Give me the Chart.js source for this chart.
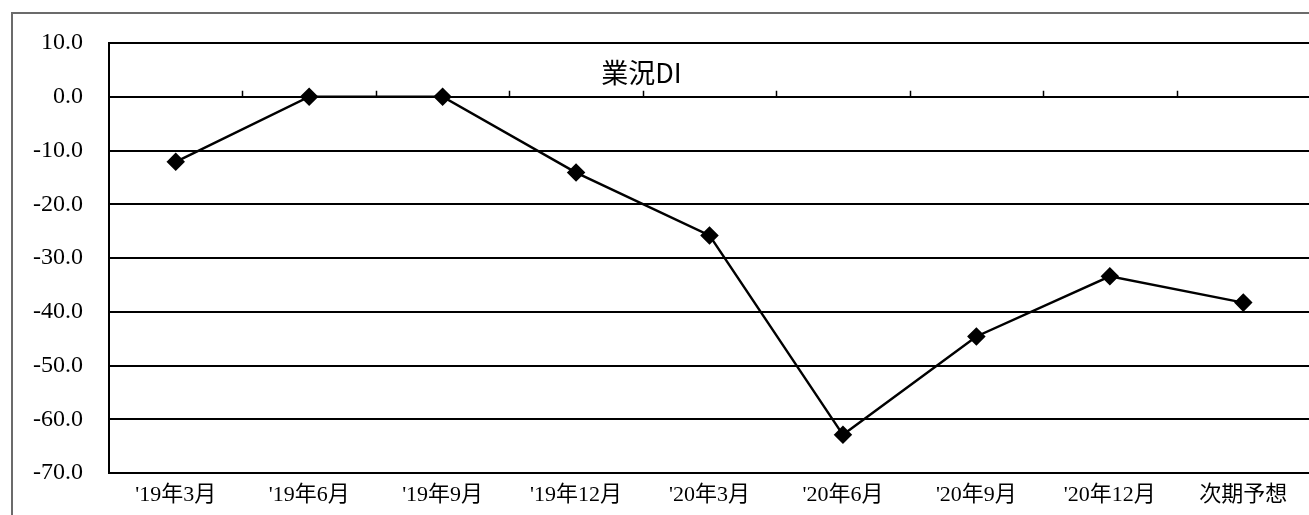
<!DOCTYPE html>
<html>
<head>
<meta charset="utf-8">
<script src="https://cdn.jsdelivr.net/npm/chart.js@4"></script>
<style>
    html, body { margin: 0; padding: 0; background: #fff; overflow: hidden; }
    #wrap { position: relative; width: 1320px; height: 515px; }
    #frame {
        position: absolute; left: 11px; top: 12px; width: 1400px; height: 600px;
        border-left: 2px solid #6b6b6b; border-top: 2px solid #6b6b6b;
    }
    canvas { position: absolute; left: 0; top: 0; }
</style>
</head>
<body>
<div id="wrap">
    <div id="frame"></div>
    <canvas id="diChart" width="1320" height="515"></canvas>
</div>
<script>
const categories = ["'19年3月", "'19年6月", "'19年9月", "'19年12月", "'20年3月", "'20年6月", "'20年9月", "'20年12月", "次期予想"];
const diValues = [-12.1, 0.0, 0.0, -14.1, -25.8, -62.9, -44.6, -33.4, -38.3];
const yTicks = [10, 0, -10, -20, -30, -40, -50, -60, -70];
const chartTitle = "業況DI";

const yFont = { family: "'Liberation Serif', 'Noto Sans CJK JP', serif", size: 24 };
const xFont = { family: "'Liberation Serif', 'Noto Sans CJK JP', serif", size: 22 };

// title sits inside the plot, and short tick marks sit on the 0 line
const insideBits = {
    id: 'insideBits',
    afterDraw(chart) {
        const ctx = chart.ctx;
        const x = chart.scales.x;
        const y = chart.scales.y;
        const y0 = y.getPixelForValue(0);
        ctx.save();
        ctx.strokeStyle = '#000';
        ctx.lineWidth = 1.5;
        for (let i = 0; i < categories.length - 1; i++) {
            const px = Math.round(x.getPixelForValue(i + 0.5)) + 0.5;
            ctx.beginPath();
            ctx.moveTo(px, y0 - 6);
            ctx.lineTo(px, y0);
            ctx.stroke();
        }
        ctx.fillStyle = '#000';
        ctx.font = "27px 'Noto Sans CJK JP', sans-serif";
        ctx.textAlign = 'center';
        ctx.textBaseline = 'middle';
        ctx.fillText(chartTitle, x.getPixelForValue(3.49), y.getPixelForValue(5) + 3);
        ctx.restore();
    }
};

new Chart(document.getElementById('diChart'), {
    type: 'line',
    data: {
        labels: categories,
        datasets: [{
            label: chartTitle,
            data: diValues,
            borderColor: '#000',
            borderWidth: 2.5,
            backgroundColor: '#000',
            pointStyle: 'rectRot',
            pointRadius: 7.5,
            pointHoverRadius: 7.5,
            tension: 0
        }]
    },
    options: {
        responsive: false,
        animation: false,
        layout: { padding: { top: 43, right: 8, bottom: 0, left: 0 } },
        plugins: {
            legend: { display: false },
            title: { display: false },
            tooltip: { enabled: false }
        },
        scales: {
            x: {
                offset: true,
                grid: { display: false, drawTicks: false },
                border: { display: true, color: '#000', width: 2 },
                ticks: { color: '#000', font: xFont, padding: 9, maxRotation: 0, autoSkip: false },
                afterFit(scale) { scale.height = 42; }
            },
            y: {
                min: -70,
                max: 10,
                afterBuildTicks(scale) { scale.ticks = yTicks.map(v => ({ value: v })); },
                grid: { color: '#000', lineWidth: 2, drawTicks: false },
                border: { display: true, color: '#000', width: 2 },
                ticks: {
                    color: '#000',
                    font: yFont,
                    padding: 26,
                    callback: v => v.toFixed(1)
                },
                afterFit(scale) { scale.width = 109; }
            }
        }
    },
    plugins: [insideBits]
});
</script>
</body>
</html>
